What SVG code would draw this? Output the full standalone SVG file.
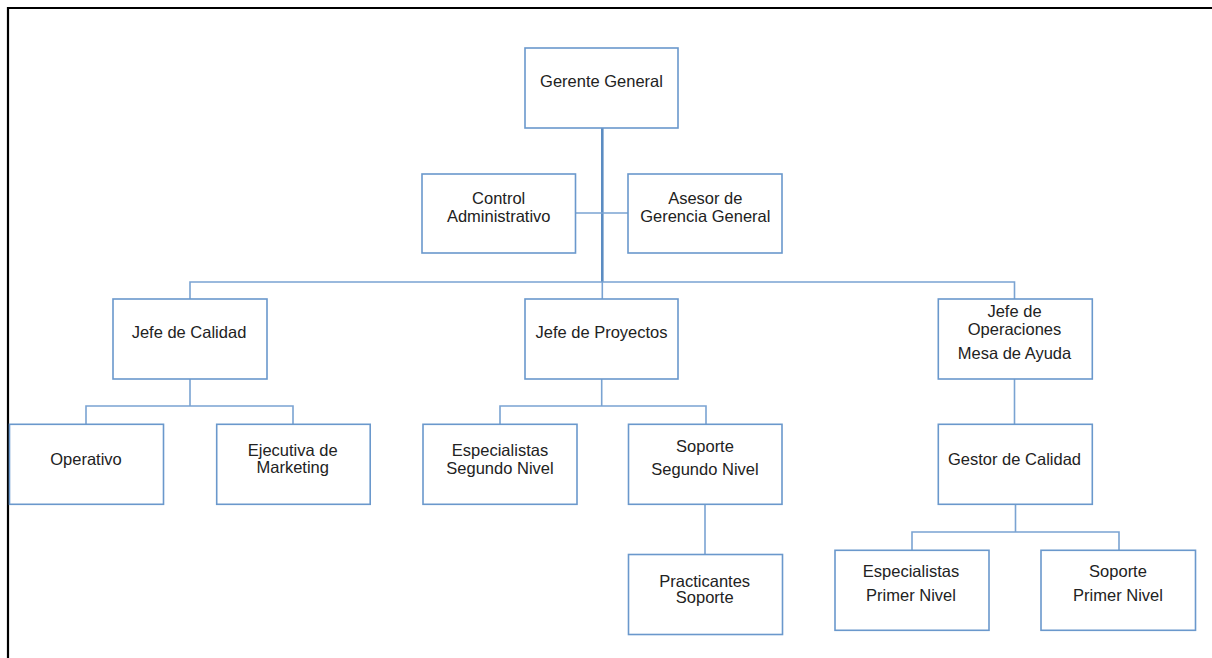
<svg xmlns="http://www.w3.org/2000/svg" width="1212" height="658" viewBox="0 0 1212 658">
<style>
.box{fill:#fff;stroke:#6a98cc;stroke-width:1.6}
.ln{fill:none;stroke:#7aa3d2;stroke-width:1.6}
.trunk{fill:none;stroke:#5b8cc2;stroke-width:2.6}
text{font-family:"Liberation Sans",Arial,sans-serif;font-size:16.5px;fill:#222;text-anchor:middle}
</style>
<rect width="1212" height="658" fill="#fff"/>
<path d="M8,658 V8 H1212" fill="none" stroke="#000" stroke-width="2.2"/>
<g id="connectors">
<path class="trunk" d="M602.3,128 V282"/>
<path class="ln" d="M602.3,282 V299"/>
<path class="ln" d="M575.5,213 H628"/>
<path class="ln" d="M190,299 V282 H1014.5 V299"/>
<path class="ln" d="M190,379 V406 M86,424 V406 H293 V424"/>
<path class="ln" d="M601.7,379 V406 M500,424 V406 H706 V424"/>
<path class="ln" d="M705,504 V555"/>
<path class="ln" d="M1014.5,379 V424"/>
<path class="ln" d="M1015.5,504 V532 M912,550 V532 H1119 V550"/>
</g>
<g id="n-gerente"><rect class="box" x="525" y="48" width="153" height="80"/><text x="601.5" y="87">Gerente General</text></g>
<g id="n-control"><rect class="box" x="422" y="174" width="153.5" height="79"/><text x="498.7" y="204">Control</text><text x="498.7" y="221.7">Administrativo</text></g>
<g id="n-asesor"><rect class="box" x="628" y="174" width="154" height="79"/><text x="705.3" y="204">Asesor de</text><text x="705.3" y="221.7">Gerencia General</text></g>
<g id="n-jcalidad"><rect class="box" x="113" y="299" width="154" height="80"/><text x="189" y="338.3">Jefe de Calidad</text></g>
<g id="n-jproyectos"><rect class="box" x="525" y="299" width="153" height="80"/><text x="601.5" y="338.3">Jefe de Proyectos</text></g>
<g id="n-joperaciones"><rect class="box" x="938.3" y="299" width="154" height="80"/><text x="1014.5" y="317.3">Jefe de</text><text x="1014.5" y="335">Operaciones</text><text x="1014.5" y="358.7">Mesa de Ayuda</text></g>
<g id="n-operativo"><rect class="box" x="9.5" y="424.3" width="154" height="80"/><text x="86" y="465">Operativo</text></g>
<g id="n-ejecutiva"><rect class="box" x="216.7" y="424.3" width="153.5" height="80"/><text x="292.7" y="455.7">Ejecutiva de</text><text x="292.7" y="473.3">Marketing</text></g>
<g id="n-esp2"><rect class="box" x="423" y="424.3" width="154" height="80"/><text x="500" y="456">Especialistas</text><text x="500" y="474">Segundo Nivel</text></g>
<g id="n-sop2"><rect class="box" x="628.5" y="424.3" width="153.5" height="80"/><text x="705" y="451.7">Soporte</text><text x="705" y="475">Segundo Nivel</text></g>
<g id="n-gestor"><rect class="box" x="938.3" y="424.3" width="154" height="80"/><text x="1014.5" y="465">Gestor de Calidad</text></g>
<g id="n-practicantes"><rect class="box" x="628.5" y="554.5" width="154" height="80"/><text x="704.7" y="586.7">Practicantes</text><text x="704.7" y="603.3">Soporte</text></g>
<g id="n-esp1"><rect class="box" x="835" y="550.3" width="154" height="80"/><text x="911" y="577.3">Especialistas</text><text x="911" y="601">Primer Nivel</text></g>
<g id="n-sop1"><rect class="box" x="1041" y="550.3" width="154.5" height="80"/><text x="1118" y="577.3">Soporte</text><text x="1118" y="601">Primer Nivel</text></g>
</svg>
